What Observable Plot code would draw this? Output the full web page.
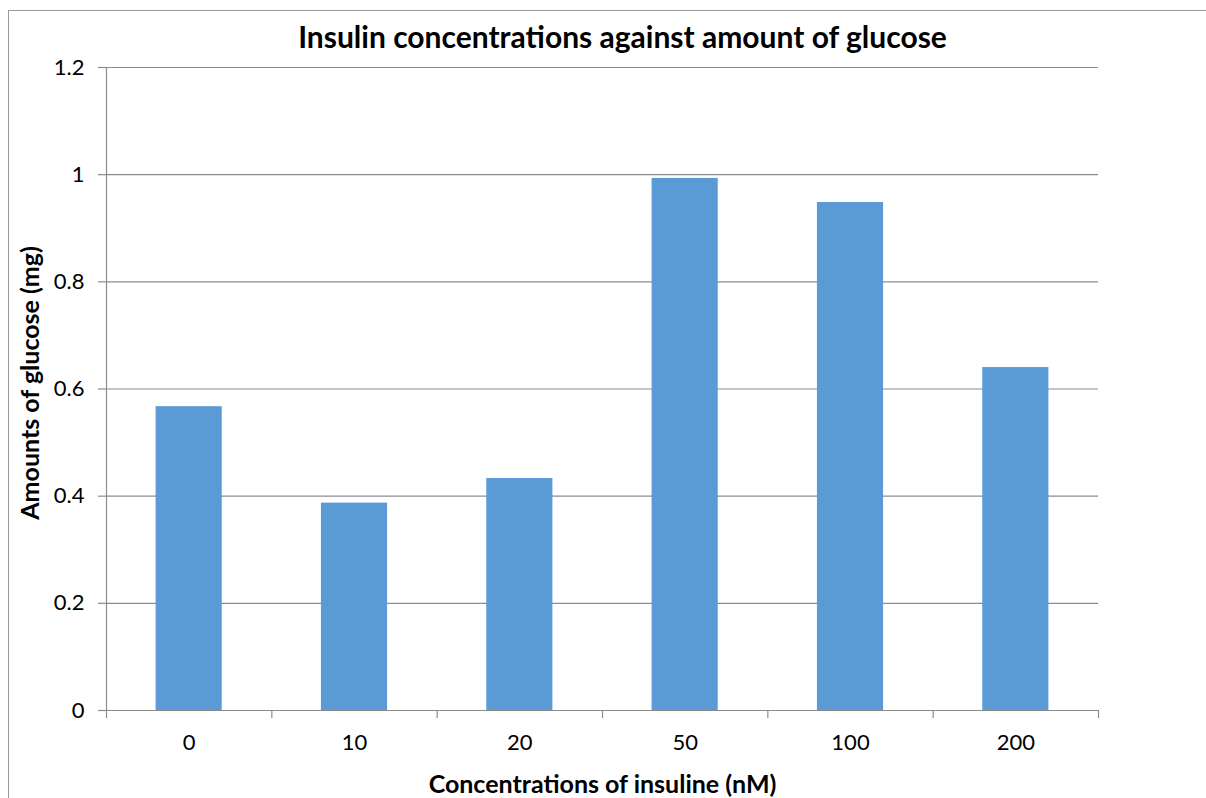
<!DOCTYPE html>
<html>
<head>
<meta charset="utf-8">
<script src="https://cdn.jsdelivr.net/npm/d3@7"></script>
<script src="https://cdn.jsdelivr.net/npm/@observablehq/plot@0.6"></script>
<style>
  html, body { margin: 0; padding: 0; background: #fff; }
  #wrap { position: relative; width: 1206px; height: 798px; overflow: hidden; }
  #border { position: absolute; left: 8px; top: 10px; width: 1300px; height: 900px;
            border-left: 1.5px solid #9a9a9a; border-top: 1.5px solid #9a9a9a; }
  #chart { position: absolute; left: 0; top: 0; }
</style>
</head>
<body>
<div id="wrap"><div id="border"></div><div id="chart"></div></div>
<script>
const categories = ["0", "10", "20", "50", "100", "200"];
const glucose = [0.567, 0.387, 0.433, 0.993, 0.948, 0.640];
const yTicks = [0, 0.2, 0.4, 0.6, 0.8, 1, 1.2];
const yTickLabels = ["0", "0.2", "0.4", "0.6", "0.8", "1", "1.2"];
const title = "Insulin concentrations against amount of glucose";
const xTitle = "Concentrations of insuline (nM)";
const yTitle = "Amounts of glucose (mg)";

const data = categories.map((c, i) => ({i, c, v: glucose[i]}));
const idx = categories.map((_, i) => i);
const bounds = [...idx.map(i => i - 0.5), categories.length - 0.5];

const font = "Lato, 'Open Sans', sans-serif";
const grid = "#8c8c8c";

const plot = Plot.plot({
  width: 1206,
  height: 798,
  marginLeft: 106,
  marginRight: 108,
  marginTop: 67,
  marginBottom: 88,
  style: {fontFamily: font, background: "transparent", overflow: "visible"},
  x: {type: "linear", domain: [-0.5, categories.length - 0.5]},
  y: {domain: [0, 1.2]},
  marks: [
    Plot.ruleY(yTicks, {y: d => d, stroke: grid, strokeWidth: 1.2}),
    Plot.ruleX([-0.5], {y1: 0, y2: 1.2, stroke: grid, strokeWidth: 1.2}),
    Plot.rectY(data, {x1: d => d.i - 0.2, x2: d => d.i + 0.2, y: "v", fill: "#5B9BD5"}),
    Plot.axisY({ticks: yTicks, tickFormat: (d, k) => yTickLabels[k], tickSize: 8, tickPadding: 14,
      stroke: grid, strokeWidth: 1.2, fontSize: 22, fill: "#000", label: null}),
    Plot.axisX({ticks: bounds, tickFormat: () => "", tickSize: 8, tickPadding: 0,
      stroke: grid, strokeWidth: 1.2, label: null}),
    Plot.axisX({ticks: idx, tickFormat: i => categories[i], tickSize: 0, tickPadding: 24,
      fontSize: 22, fill: "#000", label: null}),
    Plot.text([title], {frameAnchor: "top", dy: -41, dx: 20, fontSize: 30, fontWeight: "bold", fill: "#000"}),
    Plot.text([xTitle], {frameAnchor: "bottom", dy: 82, dx: 0, fontSize: 25, fontWeight: "bold", fill: "#000"}),
    Plot.text([yTitle], {frameAnchor: "left", textAnchor: "middle", dx: -76, dy: -6, rotate: -90, fontSize: 25, fontWeight: "bold", fill: "#000"})
  ]
});
document.getElementById("chart").appendChild(plot);
</script>
</body>
</html>
